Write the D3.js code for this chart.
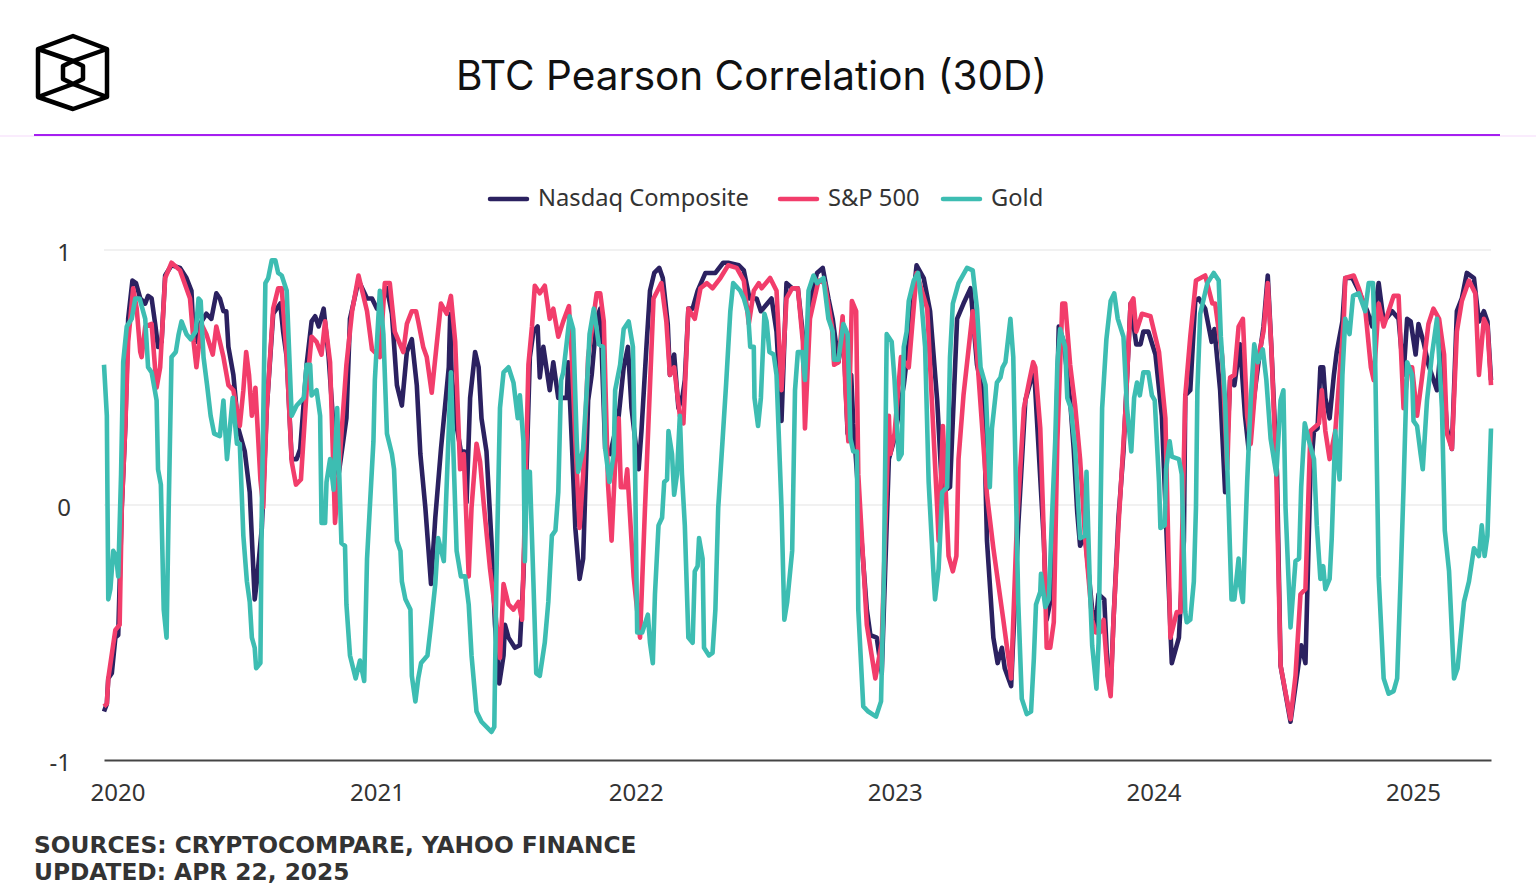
<!DOCTYPE html>
<html>
<head>
<meta charset="utf-8">
<title>BTC Pearson Correlation (30D)</title>
<script src="https://cdn.jsdelivr.net/npm/d3@7"></script>
<style>
  html, body { margin: 0; padding: 0; background: #fff; }
  svg { display: block; }
  text { font-family: "Noto Sans", sans-serif; fill: #333; }
</style>
</head>
<body>
<svg id="chart" width="1536" height="896"></svg>
<script>
const chartTitle = "BTC Pearson Correlation (30D)";
const sourceLines = ["SOURCES: CRYPTOCOMPARE, YAHOO FINANCE", "UPDATED: APR 22, 2025"];
const yearTicks = [2020, 2021, 2022, 2023, 2024, 2025];
const valueTicks = [-1, 0, 1];
const seriesNames = ["Nasdaq Composite", "S&P 500", "Gold"];
const seriesColors = ["#2b2160", "#f23d6b", "#3dbdb2"];

// [days since the first reading, correlation]
const lastDay = 1951;

const nasdaq = [[0,-.81],[4,-.78],[6,-.68],[11,-.66],[16,-.52],[20,-.51],[25,-.01],[30,.31],[34,.73],[40,.88],[45,.87],[51,.81],[58,.79],[62,.82],[67,.81],[72,.71],[76,.62],[81,.64],[86,.90],[95,.94],[107,.93],[116,.89],[123,.84],[125,.72],[130,.64],[135,.71],[144,.75],[151,.73],[158,.83],[163,.81],[168,.76],[172,.76],[175,.62],[182,.51],[189,.30],[198,.21],[205,.05],[212,-.37],[215,-.30],[222,-.09],[229,.38],[238,.75],[248,.79],[252,.68],[257,.58],[264,.18],[271,.18],[276,.22],[285,.55],[292,.72],[297,.74],[302,.70],[309,.77],[316,.58],[325,.22],[330,.12],[341,.34],[346,.73],[358,.88],[370,.81],[377,.81],[384,.77],[393,.81],[398,.85],[405,.75],[412,.47],[419,.39],[426,.60],[433,.65],[440,.47],[445,.20],[452,-.01],[460,-.31],[466,-.05],[474,.22],[485,.54],[487,.75],[489,.51],[496,.31],[502,.21],[507,.21],[510,.01],[515,.42],[522,.60],[527,.54],[531,.34],[538,.21],[545,-.14],[550,-.47],[556,-.70],[562,-.59],[564,-.47],[569,-.52],[578,-.56],[585,-.55],[590,-.28],[595,.20],[599,.58],[604,.68],[610,.70],[613,.50],[618,.62],[627,.45],[632,.56],[639,.42],[646,.42],[651,.42],[653,.56],[658,.25],[663,-.09],[669,-.29],[674,-.21],[681,.41],[686,.51],[693,.73],[698,.77],[705,.22],[712,.20],[724,.35],[731,.54],[737,.62],[742,.38],[752,.14],[756,.29],[763,.62],[768,.84],[774,.91],[781,.93],[786,.89],[793,.71],[796,.51],[802,.59],[808,.38],[814,.43],[817,.49],[822,.77],[828,.77],[835,.84],[846,.91],[860,.91],[871,.95],[878,.95],[893,.94],[900,.92],[908,.81],[918,.81],[924,.76],[939,.81],[946,.68],[953,.33],[960,.87],[968,.85],[976,.85],[983,.67],[988,.51],[993,.80],[1003,.91],[1011,.93],[1019,.81],[1025,.73],[1033,.56],[1040,.68],[1046,.28],[1051,.51],[1054,.32],[1057,.21],[1064,-.08],[1073,-.41],[1078,-.51],[1087,-.52],[1094,-.66],[1104,.18],[1111,.25],[1125,.47],[1132,.64],[1143,.94],[1153,.89],[1162,.76],[1172,.41],[1179,.05],[1190,.07],[1200,.73],[1209,.79],[1219,.85],[1228,.55],[1237,.43],[1242,-.14],[1251,-.52],[1257,-.62],[1263,-.56],[1267,-.64],[1276,-.71],[1286,-.08],[1296,.41],[1303,.48],[1308,.55],[1312,.35],[1322,-.14],[1326,-.45],[1331,-.38],[1338,.12],[1343,.70],[1350,.64],[1359,.41],[1364,.22],[1369,-.03],[1373,-.16],[1380,-.12],[1390,-.41],[1394,-.49],[1399,-.35],[1407,-.37],[1412,-.67],[1416,-.72],[1420,-.45],[1427,-.05],[1434,.21],[1444,.79],[1452,.63],[1458,.63],[1462,.68],[1469,.68],[1479,.59],[1488,.35],[1495,-.14],[1502,-.62],[1512,-.52],[1519,-.14],[1521,.43],[1528,.45],[1535,.80],[1540,.81],[1549,.77],[1558,.64],[1562,.69],[1570,.45],[1577,.05],[1584,.49],[1590,.47],[1598,.63],[1605,.35],[1610,.22],[1618,.43],[1624,.56],[1631,.70],[1637,.90],[1642,.62],[1650,.12],[1655,-.63],[1669,-.85],[1678,-.67],[1684,-.55],[1690,-.62],[1697,.12],[1702,.29],[1707,.30],[1711,.54],[1715,.54],[1718,.42],[1724,.34],[1730,.51],[1734,.60],[1742,.72],[1746,.89],[1756,.89],[1765,.84],[1777,.76],[1784,.70],[1793,.87],[1800,.72],[1812,.76],[1821,.73],[1828,.51],[1833,.73],[1838,.72],[1845,.59],[1849,.71],[1856,.64],[1863,.55],[1875,.45],[1881,.64],[1889,.30],[1896,.22],[1903,.76],[1910,.81],[1917,.91],[1927,.89],[1934,.72],[1941,.76],[1946,.72],[1951,.49]];

const sp500 = [[0,-.79],[4,-.78],[6,-.68],[16,-.49],[22,-.47],[25,-.01],[30,.31],[34,.64],[41,.85],[46,.77],[51,.60],[53,.58],[58,.70],[67,.71],[74,.46],[79,.54],[86,.89],[95,.95],[107,.92],[121,.81],[126,.64],[130,.54],[137,.71],[144,.67],[153,.59],[158,.70],[168,.58],[175,.47],[182,.45],[191,.31],[196,.45],[200,.60],[204,.51],[208,.35],[213,.46],[220,.10],[224,-.01],[229,.38],[238,.77],[245,.85],[250,.85],[257,.58],[264,.17],[270,.08],[277,.10],[285,.45],[292,.66],[299,.64],[306,.59],[311,.72],[318,.56],[325,-.07],[330,.12],[341,.55],[349,.76],[358,.90],[370,.76],[377,.61],[388,.58],[395,.87],[402,.87],[409,.68],[421,.60],[426,.71],[433,.76],[439,.76],[442,.72],[449,.62],[454,.58],[461,.44],[468,.63],[474,.79],[482,.75],[488,.82],[494,.64],[501,.14],[506,.20],[513,-.28],[517,-.01],[524,.24],[529,.17],[534,.01],[543,-.25],[550,-.41],[557,-.60],[562,-.31],[569,-.39],[576,-.41],[583,-.38],[588,-.45],[591,-.14],[597,.55],[602,.70],[606,.86],[613,.83],[620,.86],[627,.73],[632,.77],[639,.66],[646,.72],[654,.78],[658,.58],[663,.25],[669,-.09],[674,.12],[681,.58],[693,.83],[698,.83],[703,.72],[709,.08],[714,-.14],[719,.16],[724,.34],[727,.07],[733,.07],[736,.14],[745,-.28],[754,-.52],[761,-.01],[773,.81],[784,.87],[791,.72],[796,.51],[802,.54],[810,.35],[815,.32],[822,.77],[831,.73],[839,.85],[848,.87],[856,.85],[867,.89],[878,.94],[890,.93],[900,.88],[907,.71],[914,.84],[921,.87],[925,.85],[937,.89],[946,.84],[953,.45],[960,.81],[968,.85],[976,.85],[983,.64],[986,.30],[993,.73],[1005,.88],[1014,.87],[1024,.70],[1027,.55],[1033,.56],[1039,.74],[1043,.45],[1047,.25],[1052,.80],[1058,.76],[1061,.12],[1073,-.47],[1085,-.68],[1094,-.54],[1104,.35],[1106,.20],[1112,.28],[1121,.58],[1132,.54],[1143,.91],[1158,.77],[1172,-.01],[1174,-.14],[1180,.31],[1188,-.20],[1194,-.26],[1199,-.20],[1202,.18],[1209,.43],[1222,.76],[1228,.59],[1242,.04],[1251,-.17],[1257,-.29],[1265,-.45],[1276,-.68],[1284,-.08],[1294,.38],[1301,.48],[1307,.56],[1310,.54],[1317,.30],[1322,-.12],[1326,-.56],[1331,-.56],[1336,-.46],[1341,.25],[1348,.79],[1352,.79],[1359,.55],[1366,.39],[1373,.18],[1380,-.13],[1390,-.45],[1395,-.50],[1401,-.50],[1406,-.45],[1412,-.68],[1416,-.75],[1420,-.45],[1427,-.08],[1437,.38],[1444,.79],[1448,.81],[1452,.68],[1460,.75],[1472,.74],[1484,.60],[1493,.34],[1500,-.52],[1509,-.42],[1514,-.42],[1521,.43],[1528,.66],[1536,.88],[1549,.90],[1559,.79],[1563,.79],[1573,.58],[1580,.14],[1584,.50],[1590,.51],[1596,.70],[1602,.73],[1608,.35],[1613,.24],[1622,.55],[1631,.68],[1637,.87],[1642,.62],[1649,.12],[1655,-.63],[1669,-.84],[1676,-.67],[1683,-.35],[1690,-.33],[1697,.29],[1709,.32],[1713,.45],[1718,.29],[1724,.18],[1732,.29],[1744,.73],[1746,.89],[1758,.90],[1765,.85],[1774,.77],[1782,.54],[1786,.49],[1793,.79],[1800,.70],[1814,.82],[1821,.82],[1828,.38],[1835,.54],[1840,.54],[1847,.35],[1854,.50],[1863,.71],[1870,.77],[1878,.73],[1885,.59],[1889,.28],[1896,.22],[1903,.68],[1910,.80],[1920,.88],[1929,.83],[1934,.51],[1941,.73],[1946,.70],[1951,.47]];

const gold = [[0,.55],[4,.35],[6,-.37],[9,-.33],[13,-.18],[17,-.20],[20,-.28],[24,.12],[27,.56],[32,.70],[39,.73],[44,.81],[50,.81],[58,.73],[62,.54],[67,.52],[74,.41],[76,.14],[80,.08],[84,-.41],[88,-.52],[91,-.01],[95,.58],[101,.60],[105,.67],[109,.72],[116,.67],[122,.65],[129,.68],[133,.81],[136,.80],[140,.58],[145,.47],[150,.35],[155,.28],[163,.27],[168,.41],[173,.18],[177,.30],[181,.42],[187,.24],[191,.24],[196,-.12],[201,-.30],[205,-.38],[208,-.52],[212,-.56],[214,-.64],[220,-.62],[222,-.01],[227,.87],[231,.89],[236,.96],[241,.96],[245,.91],[250,.90],[257,.84],[264,.35],[271,.39],[281,.42],[285,.55],[290,.55],[292,.43],[299,.45],[304,.35],[306,-.07],[311,-.07],[313,.09],[318,.18],[323,.06],[328,.38],[334,-.15],[339,-.16],[341,-.39],[346,-.59],[354,-.68],[360,-.61],[366,-.69],[370,-.21],[379,.25],[381,.49],[388,.84],[393,.67],[398,.28],[405,.20],[408,.14],[412,-.14],[417,-.18],[419,-.30],[424,-.37],[431,-.41],[433,-.67],[438,-.77],[442,-.68],[446,-.62],[455,-.59],[460,-.47],[466,-.31],[470,-.13],[478,-.22],[488,.52],[491,.25],[496,-.18],[502,-.28],[508,-.28],[513,-.39],[517,-.59],[524,-.81],[531,-.85],[545,-.89],[549,-.87],[552,-.28],[557,.38],[562,.52],[569,.54],[576,.48],[582,.34],[585,.43],[590,.25],[592,-.22],[595,.13],[599,.13],[604,-.30],[608,-.66],[613,-.67],[620,-.54],[625,-.38],[630,-.12],[635,-.10],[639,.05],[643,.49],[646,.52],[651,.64],[655,.74],[660,.69],[665,.25],[667,.13],[674,.22],[679,.45],[683,.67],[689,.77],[696,.63],[702,.62],[705,.22],[711,.09],[717,.20],[719,.45],[726,.55],[731,.69],[738,.72],[744,.62],[747,.14],[750,-.50],[757,-.50],[765,-.43],[768,-.54],[772,-.62],[775,-.35],[780,-.08],[785,-.05],[788,.09],[792,.10],[794,.29],[799,.20],[802,.04],[806,.12],[810,.35],[813,.12],[817,-.08],[822,-.52],[828,-.54],[831,-.26],[835,-.24],[837,-.13],[842,-.21],[844,-.56],[851,-.59],[856,-.58],[860,-.41],[864,-.01],[870,.25],[875,.47],[881,.76],[885,.87],[895,.84],[900,.81],[906,.75],[909,.62],[914,.62],[915,.42],[920,.31],[924,.42],[929,.75],[932,.72],[936,.60],[942,.59],[946,.51],[953,-.01],[957,-.45],[961,-.38],[968,-.18],[972,.45],[976,.60],[982,.60],[986,.49],[991,.84],[998,.90],[1003,.87],[1012,.89],[1019,.73],[1025,.68],[1027,.57],[1033,.57],[1040,.71],[1046,.67],[1050,.26],[1054,.21],[1059,.21],[1061,-.41],[1068,-.79],[1075,-.81],[1086,-.83],[1093,-.77],[1097,-.28],[1101,.67],[1108,.64],[1112,.49],[1118,.18],[1122,.20],[1125,.62],[1129,.68],[1132,.80],[1139,.88],[1145,.91],[1150,.79],[1155,.62],[1160,.09],[1167,-.28],[1169,-.37],[1174,-.25],[1179,.05],[1186,.07],[1190,.58],[1194,.79],[1202,.87],[1214,.93],[1222,.92],[1228,.77],[1233,.54],[1240,.47],[1246,.07],[1249,.30],[1256,.48],[1261,.50],[1264,.54],[1268,.56],[1275,.73],[1279,.58],[1286,-.38],[1291,-.76],[1298,-.82],[1304,-.81],[1308,-.60],[1311,-.39],[1317,-.34],[1318,-.27],[1324,-.40],[1329,-.37],[1333,-.08],[1338,.25],[1341,.55],[1345,.69],[1352,.62],[1355,.42],[1360,.38],[1366,.22],[1373,-.13],[1380,-.12],[1382,.13],[1387,-.34],[1390,-.55],[1396,-.72],[1399,-.54],[1404,.38],[1410,.65],[1416,.80],[1421,.83],[1426,.73],[1434,.66],[1439,.38],[1445,.21],[1449,.42],[1453,.48],[1457,.43],[1462,.52],[1469,.52],[1474,.43],[1478,.41],[1484,.09],[1486,-.09],[1492,-.08],[1494,.14],[1499,.25],[1502,.19],[1512,.18],[1516,.12],[1521,-.42],[1523,-.46],[1528,-.45],[1533,-.30],[1536,-.01],[1538,.45],[1542,.75],[1552,.87],[1561,.91],[1568,.88],[1571,.66],[1577,.41],[1582,-.01],[1586,-.37],[1590,-.37],[1596,-.21],[1598,-.31],[1602,-.38],[1608,.09],[1613,.41],[1618,.63],[1623,.56],[1630,.61],[1635,.49],[1641,.26],[1649,.12],[1655,.41],[1659,.45],[1662,-.01],[1669,-.48],[1676,-.22],[1681,-.21],[1684,.07],[1689,.32],[1695,.25],[1702,.18],[1706,-.08],[1711,-.29],[1715,-.24],[1718,-.33],[1724,-.29],[1727,-.13],[1732,.29],[1738,.10],[1742,.51],[1746,.73],[1752,.67],[1757,.82],[1765,.83],[1774,.76],[1779,.87],[1785,.87],[1788,.58],[1793,-.28],[1796,-.45],[1800,-.68],[1807,-.74],[1814,-.73],[1819,-.68],[1824,-.28],[1828,.07],[1833,.56],[1840,.51],[1842,.33],[1847,.31],[1852,.20],[1855,.14],[1861,.41],[1868,.59],[1875,.73],[1882,.38],[1886,-.10],[1892,-.26],[1899,-.68],[1904,-.64],[1913,-.38],[1920,-.30],[1927,-.17],[1934,-.20],[1938,-.08],[1942,-.20],[1946,-.12],[1951,.30]];

const allSeries = [nasdaq, sp500, gold];

const svg = d3.select("#chart");

const startDate = new Date(2019, 11, 13);
const endDate = new Date(2025, 3, 21);
const x = d3.scaleTime().domain([startDate, endDate]).range([104, 1491]);
const y = d3.scaleLinear().domain([-1, 1]).range([760, 250]);

const toDate = day => new Date(+startDate + (day / lastDay) * (endDate - startDate));

// header
const logo = svg.append("g")
  .attr("fill", "none").attr("stroke", "#000").attr("stroke-width", 4.5).attr("stroke-linejoin", "round");
logo.append("path").attr("d", "M73 36 L107 49 L107 97 L73 109 L38 97 L38 49 Z");
logo.append("path").attr("d", "M38 49 L73 61 L107 49 M38 97 L73 84 L107 97");
logo.append("path").attr("d", "M73 61 L83 66 L83 79 L73 84 L63 79 L63 66 Z");

svg.append("text").attr("x", 751.5).attr("y", 90)
  .attr("text-anchor", "middle")
  .style("font-family", "Inter, sans-serif")
  .style("font-size", "40.5px").style("fill", "#111")
  .text(chartTitle);

svg.append("line").attr("x1", 0).attr("x2", 1536).attr("y1", 136).attr("y2", 136)
  .attr("stroke", "#f5d9fb").attr("stroke-width", 1);
svg.append("line").attr("x1", 34).attr("x2", 1500).attr("y1", 135).attr("y2", 135)
  .attr("stroke", "#a51ff0").attr("stroke-width", 2);

// legend
const legendSpots = [[490, 538], [780, 828], [943, 991]];
seriesNames.forEach((name, i) => {
  svg.append("line")
    .attr("x1", legendSpots[i][0]).attr("x2", legendSpots[i][0] + 37)
    .attr("y1", 199).attr("y2", 199)
    .attr("stroke", seriesColors[i]).attr("stroke-width", 4.5).attr("stroke-linecap", "round");
  svg.append("text").attr("x", legendSpots[i][1]).attr("y", 206)
    .style("font-size", "23.7px").text(name);
});

// y axis + grid
const yAxis = svg.append("g").attr("transform", "translate(104,0)")
  .call(d3.axisLeft(y).tickValues(valueTicks).tickSize(0).tickPadding(33).tickFormat(d => String(d)));
yAxis.select(".domain").remove();
yAxis.selectAll("text").style("font-size", "24px").attr("dy", "0.44em");

svg.append("g").selectAll("line").data(valueTicks.filter(v => v !== -1)).join("line")
  .attr("x1", 104).attr("x2", 1491)
  .attr("y1", d => y(d)).attr("y2", d => y(d))
  .attr("stroke", "#f1f1f1").attr("stroke-width", 2);

// lines
const line = d3.line().x(d => x(toDate(d[0]))).y(d => y(d[1]));
svg.append("g").selectAll("path").data(allSeries).join("path")
  .attr("d", line)
  .attr("fill", "none")
  .attr("stroke", (d, i) => seriesColors[i])
  .attr("stroke-width", 4.6)
  .attr("stroke-linejoin", "round");

// x axis
const xAxis = svg.append("g").attr("transform", "translate(0,760)")
  .call(d3.axisBottom(x).tickValues(yearTicks.map(yr => new Date(yr, 0, 1)))
    .tickSize(0).tickPadding(24).tickFormat(d3.timeFormat("%Y")));
xAxis.select(".domain").attr("stroke", "#444").attr("stroke-width", 2);
xAxis.selectAll("text").style("font-size", "24px");

// sources
svg.append("g").selectAll("text").data(sourceLines).join("text")
  .attr("x", 34).attr("y", (d, i) => 852.5 + i * 27)
  .style("font-family", "'DejaVu Sans', sans-serif")
  .style("font-size", "23.3px").style("font-weight", "700")
  .text(d => d);
</script>
</body>
</html>
